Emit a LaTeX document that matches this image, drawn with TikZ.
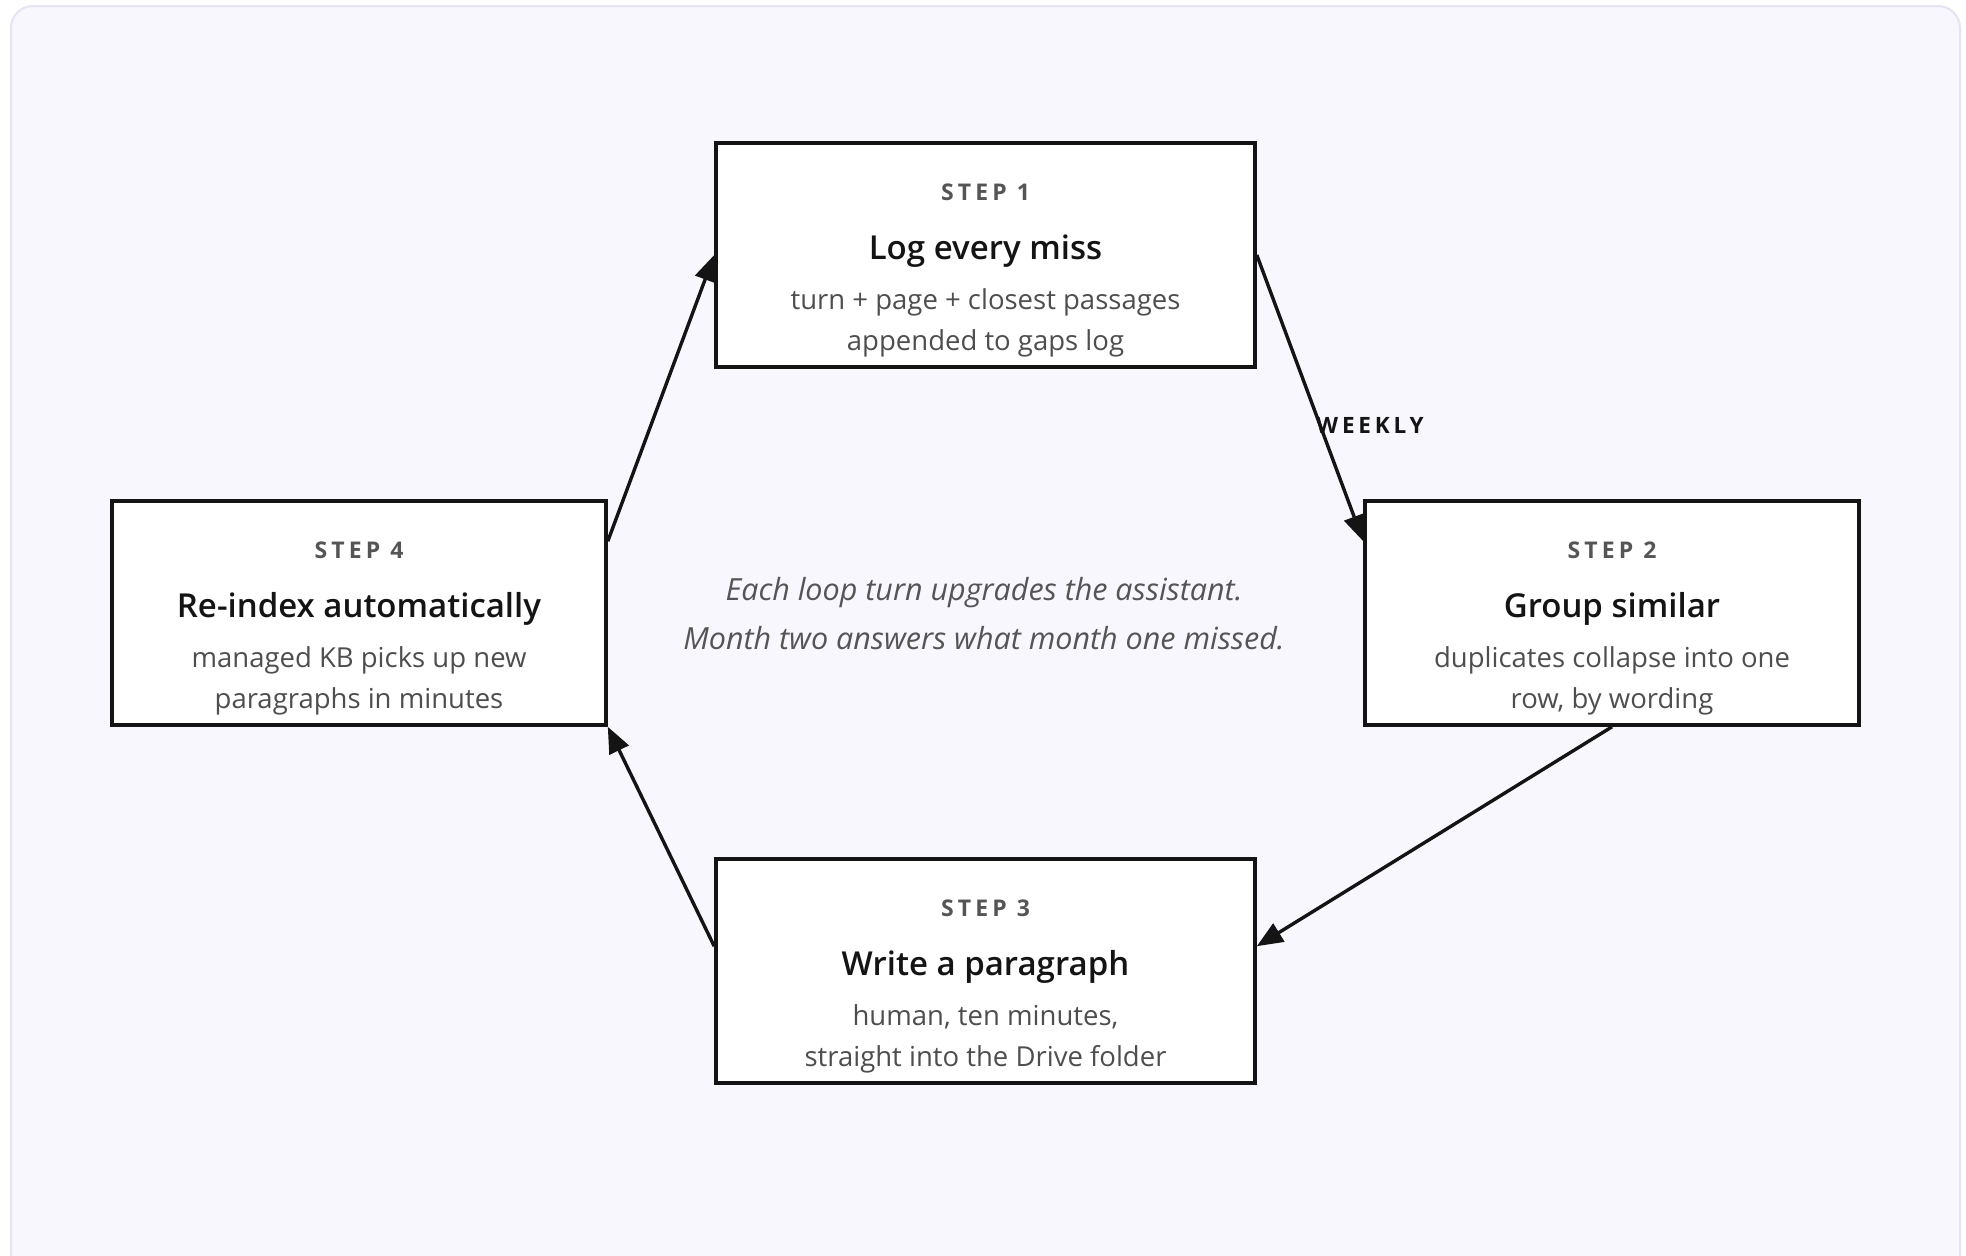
\documentclass[tikz,border=0pt]{standalone}
\usepackage{fontspec}
\setmainfont{Open Sans}
\IfFontExistsTF{Open Sans SemiBold}{\newfontfamily\semib{Open Sans SemiBold}}{\IfFontExistsTF{Open Sans Semibold}{\newfontfamily\semib{Open Sans Semibold}}{\newfontfamily\semib{Open Sans}[FakeBold=1]}}
\usetikzlibrary{arrows.meta,calc}
\definecolor{ink}{HTML}{141414}
\definecolor{graytxt}{HTML}{555555}
\definecolor{bodytxt}{HTML}{4E4E4E}
\definecolor{bgfill}{HTML}{F8F7FE}
\definecolor{bgline}{HTML}{E6E4F2}
\tikzset{
  stepbox/.style={draw=ink, line width=3.6pt, fill=white, inner sep=0pt, minimum height=224pt},
  widebox/.style={stepbox, minimum width=539pt},
  narrowbox/.style={stepbox, minimum width=494pt},
  steplbl/.style={anchor=base, inner sep=0pt, text=graytxt, font=\fontsize{23}{27}\selectfont\bfseries\addfontfeature{LetterSpace=18}},
  titletxt/.style={anchor=base, inner sep=0pt, text=ink, font=\fontsize{33}{39}\selectfont\semib},
  bodyline/.style={anchor=base, inner sep=0pt, text=bodytxt, font=\fontsize{27.5}{33}\selectfont},
  notetxt/.style={anchor=base, inner sep=0pt, text=graytxt, font=\fontsize{30.5}{36}\selectfont\itshape},
  edgelbl/.style={inner sep=0pt, text=ink, font=\fontsize{22.5}{27}\selectfont\bfseries\addfontfeature{LetterSpace=17}},
  flow/.style={draw=ink, line width=3.4pt, -{Triangle[length=26pt,width=21pt]}}
}
\begin{document}
\begin{tikzpicture}[x=1pt,y=-1pt]
\useasboundingbox (0,0) rectangle (1966,1256);
\clip (0,0) rectangle (1966,1256);
\fill[white] (0,0) rectangle (1966,1256);
\draw[bgline, fill=bgfill, line width=2pt, rounded corners=22pt] (11,6) rectangle (1960,1320);

% boxes
\node[widebox]   (s1) at (985.5,255) {};
\node[narrowbox] (s2) at (1612,613) {};
\node[widebox]   (s3) at (985.5,971) {};
\node[narrowbox] (s4) at (359,613) {};

% step 1
\node[steplbl]  (s1k) at ($(s1.north)+(0,59)$) {STEP 1};
\node[titletxt] (s1t) at ($(s1.north)+(0,118)$) {Log every miss};
\node[bodyline] (s1a) at ($(s1.north)+(0,168)$) {turn + page + closest passages};
\node[bodyline] (s1b) at ($(s1.north)+(0,209)$) {appended to gaps log};

% step 2
\node[steplbl]  (s2k) at ($(s2.north)+(0,59)$) {STEP 2};
\node[titletxt] (s2t) at ($(s2.north)+(0,118)$) {Group similar};
\node[bodyline] (s2a) at ($(s2.north)+(0,168)$) {duplicates collapse into one};
\node[bodyline] (s2b) at ($(s2.north)+(0,209)$) {row, by wording};

% step 3
\node[steplbl]  (s3k) at ($(s3.north)+(0,59)$) {STEP 3};
\node[titletxt] (s3t) at ($(s3.north)+(0,118)$) {Write a paragraph};
\node[bodyline] (s3a) at ($(s3.north)+(0,168)$) {human, ten minutes,};
\node[bodyline] (s3b) at ($(s3.north)+(0,209)$) {straight into the Drive folder};

% step 4
\node[steplbl]  (s4k) at ($(s4.north)+(0,59)$) {STEP 4};
\node[titletxt] (s4t) at ($(s4.north)+(0,118)$) {Re-index automatically};
\node[bodyline] (s4a) at ($(s4.north)+(0,168)$) {managed KB picks up new};
\node[bodyline] (s4b) at ($(s4.north)+(0,209)$) {paragraphs in minutes};

% centre note
\node[notetxt] (n1) at (984,600) {Each loop turn upgrades the assistant.};
\node[notetxt] (n2) at (984,649) {Month two answers what month one missed.};

% connectors
\draw[flow] (s1.east) -- ($(s2.north west)+(0,42)$);
\draw[flow] (s2.south) -- ($(s3.north east)+(0,89)$);
\draw[flow] ($(s3.north west)+(0,89)$) -- (s4.south east);
\draw[flow] ($(s4.north east)+(0,42)$) -- (s1.west);

\node[edgelbl] (wk) at (1370,425) {WEEKLY};
\end{tikzpicture}
\end{document}
